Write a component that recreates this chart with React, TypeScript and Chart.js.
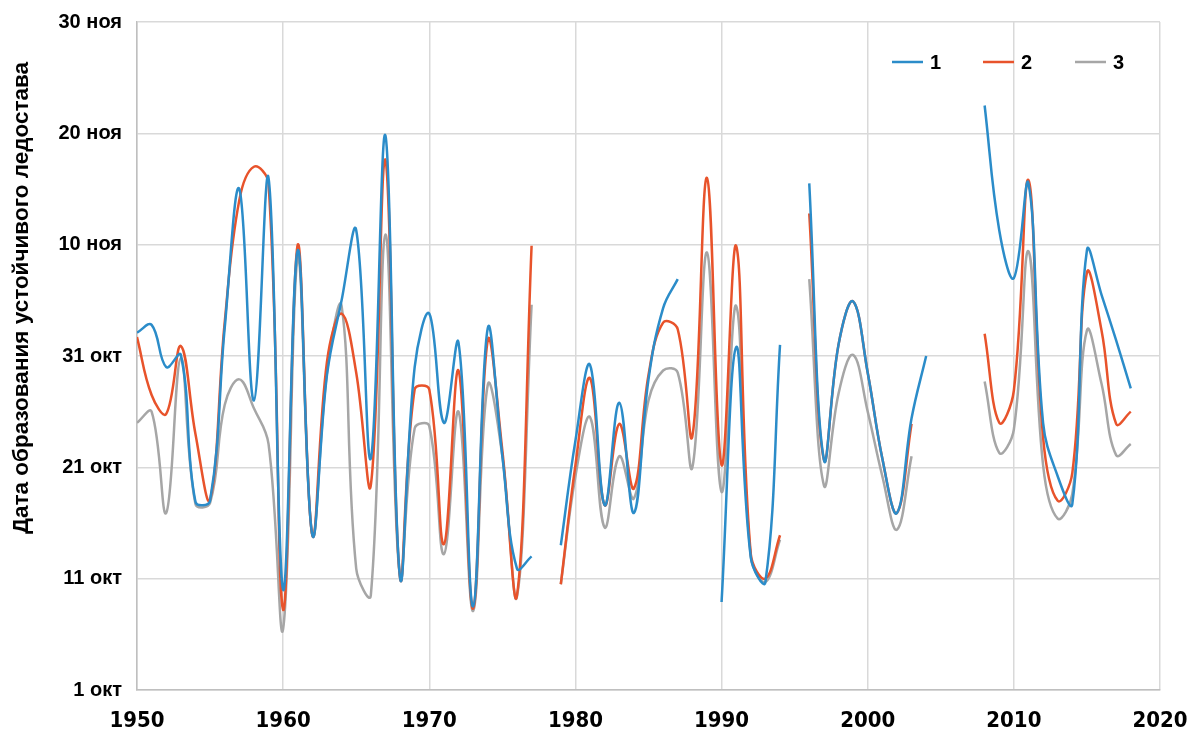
import React, { useEffect, useRef } from 'react';
import { Chart, registerables } from 'chart.js';

Chart.register(...registerables);

const years: number[] = [];
for (let y = 1950; y <= 2018; y++) years.push(y);

// Days after 1 October
const series1: (number | null)[] = [
  32.1, 32.8, 29.0, 30.1, 16.9, 17.0, 32.5, 45.0, 26.0, 46.0, // 1950-1959
  9.0, 39.5, 13.9, 28.3, 35.0, 41.3, 20.8, 49.8, 10.1, 29.0, // 1960-1969
  33.8, 24.0, 31.2, 7.5, 32.5, 21.0, 10.9, 12.0, null, 13.0, // 1970-1979
  22.4, 29.2, 16.6, 25.8, 15.9, 27.9, 34.3, 36.9, null, null, // 1980-1989
  7.9, 30.8, 11.9, 9.7, 31.0, null, 45.5, 20.7, 31.0, 34.9, // 1990-1999
  28.5, 20.8, 15.9, 24.4, 30.0, null, null, null, 52.5, 41.3, // 2000-2009
  37.0, 45.5, 24.0, 19.2, 16.7, 39.5, 35.5, 31.4, 27.1, // 2010-2018
];

const series2: (number | null)[] = [
  31.7, 26.5, 24.8, 30.9, 23.0, 17.1, 33.0, 44.0, 47.0, 45.5,
  7.2, 40.0, 13.9, 29.5, 33.8, 28.5, 18.4, 47.6, 10.1, 27.0,
  27.0, 13.1, 28.7, 7.3, 31.4, 21.5, 8.5, 39.9, null, 9.5,
  20.2, 28.0, 16.6, 23.9, 18.1, 28.3, 33.0, 32.4, 22.8, 46.0,
  20.2, 39.9, 12.2, 10.0, 13.9, null, 42.8, 20.7, 31.0, 34.9,
  28.5, 20.8, 15.9, 23.9, null, null, null, null, 32.0, 24.0,
  26.9, 45.8, 22.7, 17.0, 19.5, 37.5, 32.3, 23.9, 25.0,
];

const series3: (number | null)[] = [
  24.0, 25.0, 15.9, 29.8, 16.7, 16.8, 25.6, 27.9, 25.3, 22.1,
  5.5, 38.8, 13.9, 28.5, 34.5, 10.9, 8.5, 40.9, 10.1, 23.5,
  23.7, 12.2, 25.0, 7.1, 27.4, 21.0, 8.4, 34.6, null, 9.5,
  19.2, 24.5, 14.6, 21.0, 17.2, 26.0, 28.7, 28.5, 20.0, 39.3,
  17.8, 34.5, 12.0, 9.7, 13.5, null, 36.9, 18.4, 26.6, 30.1,
  25.0, 19.2, 14.4, 21.0, null, null, null, null, 27.7, 21.3,
  23.4, 39.4, 20.2, 15.4, 17.6, 32.3, 27.5, 21.1, 22.1,
];

const seriesNames = ['1', '2', '3'];
const seriesColors = ['#2B8CC9', '#E8532B', '#A6A6A6'];
const yTickLabels = ['1 окт', '11 окт', '21 окт', '31 окт', '10 ноя', '20 ноя', '30 ноя'];
const yAxisTitle = 'Дата образования устойчивого ледостава';

const FONT = "'Liberation Sans', Arial, sans-serif";
const NARROW = "'Liberation Sans Narrow', 'Arial Narrow', 'DejaVu Sans Condensed', sans-serif";

const toPoints = (vals: (number | null)[]) => vals.map((v, i) => ({ x: years[i], y: v }));

const overlayPlugin = {
  id: 'overlay',
  afterDraw(chart: any) {
    const ctx = chart.ctx as CanvasRenderingContext2D;
    ctx.save();
    ctx.translate(22, 298);
    ctx.rotate(-Math.PI / 2);
    ctx.font = `bold 22.5px ${FONT}`;
    ctx.fillStyle = '#000';
    ctx.textAlign = 'center';
    ctx.textBaseline = 'middle';
    ctx.fillText(yAxisTitle, 0, 0);
    ctx.restore();

    ctx.save();
    const starts = [892, 983, 1075];
    seriesNames.forEach((name, i) => {
      const x0 = starts[i];
      ctx.strokeStyle = seriesColors[i];
      ctx.lineWidth = 2.5;
      ctx.beginPath();
      ctx.moveTo(x0, 62);
      ctx.lineTo(x0 + 31, 62);
      ctx.stroke();
      ctx.fillStyle = '#000';
      ctx.font = `bold 20px ${FONT}`;
      ctx.textAlign = 'left';
      ctx.textBaseline = 'middle';
      ctx.fillText(name, x0 + 38, 63);
    });
    ctx.restore();
  },
};

export default function App() {
  const ref = useRef<HTMLCanvasElement | null>(null);

  useEffect(() => {
    if (!ref.current) return;
    const chart = new Chart(ref.current, {
      type: 'line',
      data: {
        datasets: [series1, series2, series3].map((s, i) => ({
          label: seriesNames[i],
          data: toPoints(s),
          borderColor: seriesColors[i],
          backgroundColor: seriesColors[i],
          borderWidth: 2.5,
          pointRadius: 0,
          tension: 0.4,
          spanGaps: false,
          fill: false,
        })),
      },
      options: {
        animation: false,
        responsive: false,
        layout: { padding: { top: 22, right: 27, left: 0, bottom: 0 } },
        plugins: { legend: { display: false }, tooltip: { enabled: false } },
        scales: {
          x: {
            type: 'linear',
            min: 1950,
            max: 2020,
            afterFit: (s: any) => { s.height = 43; s.paddingLeft = 0; s.paddingRight = 0; },
            ticks: {
              stepSize: 10,
              padding: 18,
              maxRotation: 0,
              color: '#000',
              font: { family: NARROW, size: 22, weight: 'bold' },
              callback: (v: any) => String(v),
            },
            grid: { color: '#D9D9D9', lineWidth: 1.5, drawTicks: false },
            border: { color: '#BFBFBF', width: 1.5 },
          },
          y: {
            min: 0,
            max: 60,
            afterFit: (s: any) => { s.width = 137; s.paddingTop = 0; s.paddingBottom = 0; },
            ticks: {
              stepSize: 10,
              padding: 15,
              color: '#000',
              font: { family: FONT, size: 20, weight: 'bold' },
              callback: (v: any) => yTickLabels[Math.round(Number(v) / 10)] ?? '',
            },
            grid: { color: '#D9D9D9', lineWidth: 1.5, drawTicks: false },
            border: { color: '#BFBFBF', width: 1.5 },
          },
        },
      },
      plugins: [overlayPlugin],
    });
    return () => chart.destroy();
  }, []);

  return (
    <div style={{ position: 'fixed', left: 0, top: 0, width: 1187, height: 733, background: '#fff' }}>
      <canvas ref={ref} width={1187} height={733} style={{ display: 'block' }} />
    </div>
  );
}
